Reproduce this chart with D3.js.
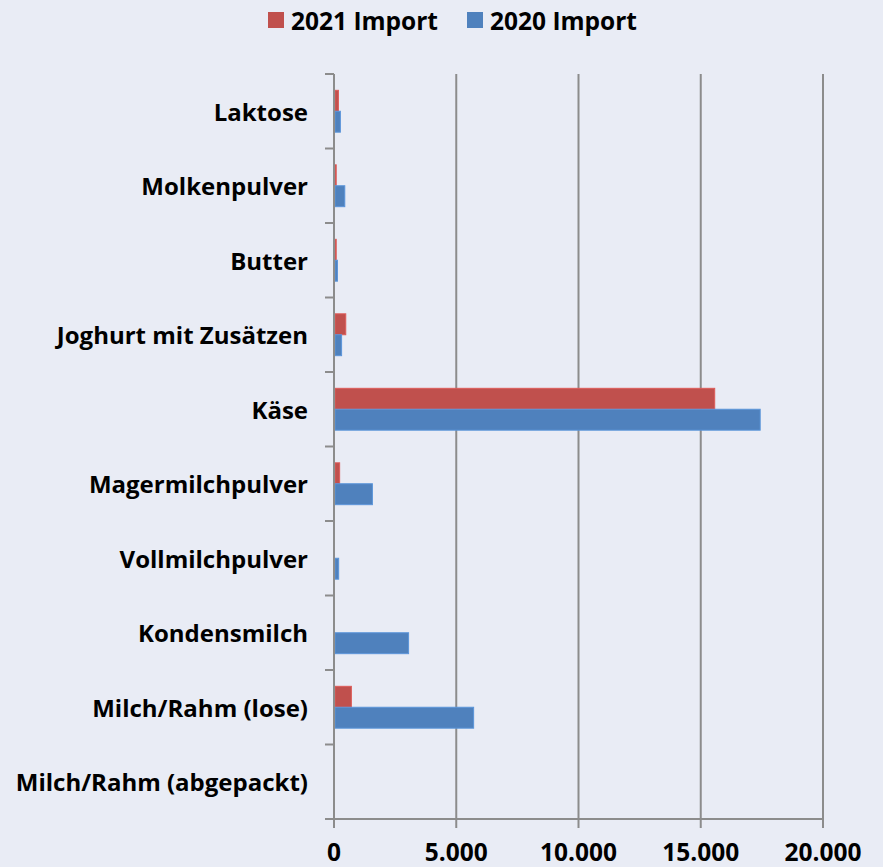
<!DOCTYPE html>
<html>
<head>
<meta charset="utf-8">
<script src="https://cdn.jsdelivr.net/npm/d3@7"></script>
<style>
  html, body { margin: 0; padding: 0; background: #e9ecf5; }
  svg { display: block; font-family: "Open Sans", Lato, sans-serif; font-weight: 700; }
</style>
</head>
<body>
<svg id="chart" width="883" height="867"></svg>
<script>
// categories top to bottom
const categories = ["Laktose", "Molkenpulver", "Butter", "Joghurt mit Zusätzen", "Käse",
  "Magermilchpulver", "Vollmilchpulver", "Kondensmilch", "Milch/Rahm (lose)", "Milch/Rahm (abgepackt)"];
const import2021 = [140, 50, 50, 440, 15530, 190, 0, 0, 670, 0];
const import2020 = [220, 400, 100, 270, 17390, 1530, 150, 3010, 5670, 0];
const seriesNames = ["2021 Import", "2020 Import"];
const colors = ["#c0504d", "#4f81bd"];
const xTicks = [0, 5000, 10000, 15000, 20000];

const svg = d3.select("#chart");
const plotL = 334, plotR = 823, plotT = 74, plotB = 819;

const x = d3.scaleLinear().domain([0, 20000]).range([plotL, plotR]);
const y = d3.scaleBand().domain(categories).range([plotT, plotB]);
const inner = d3.scaleBand().domain(seriesNames).range([0, y.bandwidth()]).paddingOuter(0.78);

const fmt = v => d3.format(",")(v).replace(/,/g, ".");

// vertical gridlines
svg.append("g").selectAll("line").data(xTicks.slice(1)).join("line")
  .attr("x1", d => x(d)).attr("x2", d => x(d))
  .attr("y1", plotT).attr("y2", plotB + 9)
  .attr("stroke", "#8c8c8c").attr("stroke-width", 2);

// bars
const rows = categories.map((c, i) => ({cat: c, vals: [import2021[i], import2020[i]]}));
const g = svg.append("g").selectAll("g").data(rows).join("g")
  .attr("transform", d => `translate(0,${y(d.cat)})`);
g.selectAll("rect").data(d => d.vals.map((v, j) => ({v, s: seriesNames[j], c: colors[j]})))
  .join("rect")
  .attr("x", x(0) + 1)
  .attr("y", d => inner(d.s))
  .attr("width", d => Math.max(0, x(d.v) - x(0)))
  .attr("height", inner.bandwidth())
  .attr("fill", d => d.c)
  .attr("stroke", d => d3.color(d.c).brighter(0.4))
  .attr("stroke-width", d => d.v > 0 ? 1 : 0);

// y axis line + ticks
svg.append("line").attr("x1", plotL).attr("x2", plotL).attr("y1", plotT).attr("y2", plotB + 9)
  .attr("stroke", "#8c8c8c").attr("stroke-width", 2);
svg.append("g").selectAll("line").data(categories.concat(["_end"])).join("line")
  .attr("x1", plotL - 9).attr("x2", plotL)
  .attr("y1", (d, i) => plotT + i * y.step()).attr("y2", (d, i) => plotT + i * y.step())
  .attr("stroke", "#8c8c8c").attr("stroke-width", 2);

// x axis line
svg.append("line").attr("x1", plotL - 9).attr("x2", plotR).attr("y1", plotB).attr("y2", plotB)
  .attr("stroke", "#8c8c8c").attr("stroke-width", 2);

// category labels
svg.append("g").selectAll("text").data(categories).join("text")
  .attr("x", 308).attr("y", d => y(d) + y.bandwidth() / 2)
  .attr("text-anchor", "end").attr("dominant-baseline", "central")
  .attr("font-size", 24).attr("fill", "#000").text(d => d);

// x tick labels
svg.append("g").selectAll("text").data(xTicks).join("text")
  .attr("x", d => x(d)).attr("y", 861)
  .attr("text-anchor", "middle").attr("font-size", 24.5).attr("fill", "#000")
  .text(d => fmt(d));

// legend
const legendX = [268, 467];
const lg = svg.append("g").selectAll("g").data(seriesNames).join("g")
  .attr("transform", (d, i) => `translate(${legendX[i]},12)`);
lg.append("rect").attr("width", 16).attr("height", 16).attr("fill", (d, i) => colors[i]);
lg.append("text").attr("x", 23).attr("y", 8).attr("dominant-baseline", "central")
  .attr("font-size", 24.5).attr("fill", "#000").text(d => d);
</script>
</body>
</html>
